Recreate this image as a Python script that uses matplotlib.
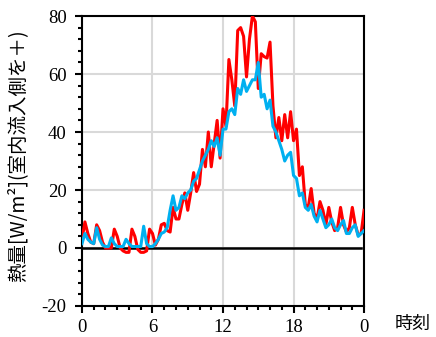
import numpy as np
import matplotlib
matplotlib.use("Agg")
import matplotlib.pyplot as plt
from matplotlib.ticker import MultipleLocator

plt.rcParams["axes.unicode_minus"] = False

# 15-minute samples, 0:00 to 24:00
hours = np.arange(97) * 0.25

heat_red = [
    3, 9, 5, 2, 1.5, 8, 6, 2, 0, 0, 0, 6.5, 4, 0, -1, -1.5,
    -1.5, 6.5, 4, -0.5, -1.5, -1.5, -1, 6.5, 5, 1, 3, 8, 8.5, 6, 5.5, 14,
    10, 10, 15, 19, 13, 19, 26, 19.5, 22, 34, 28, 40, 28, 36, 44, 31,
    48, 42, 65, 58, 49, 75, 76, 73, 59, 72, 80, 78, 55, 67, 66, 65.5,
    71, 49, 38, 45, 37, 46, 38, 47, 37, 41, 25, 28, 15, 14, 20.5, 12,
    10, 16, 13, 8, 14, 9, 6, 7, 14, 8, 5.5, 7, 14, 8, 4.5, 5,
    13,
]

heat_blue = [
    1.5, 5, 3, 2, 1.5, 7, 3, 1, 0.5, 0.5, 3.5, 1.5, 0.5, 0.5, 0.5, 3,
    1.5, 0.5, 0.5, 0.5, 0.5, 7.5, 1.5, 0.5, 0.5, 1.5, 3, 5, 5.5, 7, 13, 18,
    13, 14, 18, 17, 19, 20, 23, 24, 27, 30, 32, 34, 37, 35, 38, 32,
    41, 41, 47, 48, 46, 55, 53, 58, 54, 56, 58, 58, 64, 52, 53, 48,
    51, 42, 40, 37, 34, 30, 32, 33, 25, 24, 18, 19, 14, 13, 15, 11,
    9, 13, 10, 7, 8, 10, 7, 6, 8, 9.5, 5, 5, 7, 8, 4, 5,
    6,
]

xtick_pos = [0, 6, 12, 18, 24]
xtick_labels = ["0", "6", "12", "18", "0"]
yticks = [-20, 0, 20, 40, 60, 80]

fig = plt.figure(figsize=(4.36, 3.37), dpi=100)
ax = fig.add_axes([0.188, 0.092, 0.647, 0.8605])

ax.grid(True, color="#d9d9d9", linewidth=1.5, zorder=0)
ax.axhline(0, xmin=0, xmax=0.99, color="black", linewidth=1.8, zorder=2)

ax.plot(hours, heat_red, color="#ff0000", linewidth=2.2, zorder=3)
ax.plot(hours, heat_blue, color="#00b0f0", linewidth=2.2, zorder=4)

ax.set_xlim(0, 24)
ax.set_ylim(-20, 80)
ax.set_xticks(xtick_pos)
ax.set_xticklabels(xtick_labels)
ax.set_yticks(yticks)
ax.xaxis.set_minor_locator(MultipleLocator(1))
ax.yaxis.set_minor_locator(MultipleLocator(4))
ax.tick_params(which="major", direction="out", length=5, width=1.5, colors="black",
               labelsize=13.5)
ax.tick_params(which="minor", direction="out", length=3, width=1.5, colors="black")
ax.tick_params(axis="x", which="major", pad=4.5)
ax.tick_params(axis="y", which="major", pad=6)
for lab in ax.get_xticklabels() + ax.get_yticklabels():
    lab.set_family("Liberation Serif")

for s in ax.spines.values():
    s.set_linewidth(1.5)
    s.set_color("black")

ax.set_ylabel("熱量[W/m²](室内流入側を＋)", family=["Noto Sans CJK JP", "DejaVu Sans"],
              fontsize=14)
ax.yaxis.set_label_coords(-0.19, 0.52)
fig.text(413 / 436, 1 - 324 / 337, "時刻", family=["Noto Sans CJK JP", "DejaVu Sans"],
         fontsize=13, ha="center", va="center")

fig.savefig("out.png", dpi=100)
